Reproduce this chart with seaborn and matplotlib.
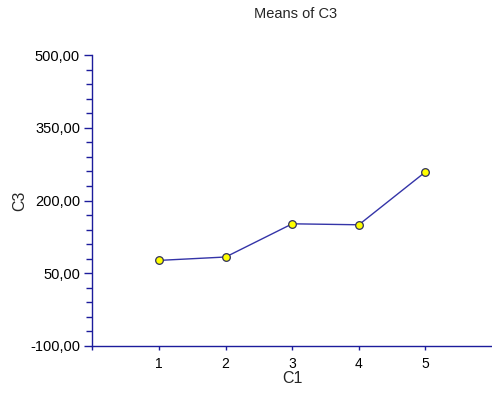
import matplotlib
matplotlib.use("Agg")
import matplotlib.pyplot as plt
from matplotlib.ticker import AutoMinorLocator, FixedLocator, FuncFormatter
import seaborn as sns
import pandas as pd

# Group means of C3 for each level of C1
c1_levels = [1, 2, 3, 4, 5]
c3_means = [76.5, 83.5, 152.0, 150.0, 259.0]

y_ticks = [-100, 50, 200, 350, 500]

df = pd.DataFrame({"C1": c1_levels, "C3": c3_means})

sns.set_style("white")
plt.rcParams["font.family"] = ["Liberation Sans", "DejaVu Sans"]

axis_blue = "#1c1c9c"
line_blue = "#3434a8"

fig = plt.figure(figsize=(4.92, 3.94), dpi=100)
ax = fig.add_axes([0.188, 0.122, 0.812, 0.738])

sns.lineplot(data=df, x="C1", y="C3", ax=ax, color=line_blue, linewidth=1.0,
             marker="o", markersize=5.5, markerfacecolor="#ffff00",
             markeredgecolor="#30305a", markeredgewidth=0.9)

ax.set_xlim(0, 6)
ax.set_ylim(-100, 500)
ax.set_xticks(c1_levels)
ax.xaxis.set_minor_locator(FixedLocator([0]))
ax.set_yticks(y_ticks)
ax.yaxis.set_minor_locator(AutoMinorLocator(5))
ax.yaxis.set_major_formatter(FuncFormatter(lambda v, p: f"{v:.2f}".replace(".", ",")))

for side in ["top", "right"]:
    ax.spines[side].set_visible(False)
for side in ["left", "bottom"]:
    ax.spines[side].set_color(axis_blue)
    ax.spines[side].set_linewidth(1.0)

ax.tick_params(axis="y", which="major", direction="out", length=6, width=1,
               color=axis_blue, labelsize=10.5, labelcolor="black", pad=3, left=True)
ax.tick_params(axis="y", which="minor", direction="out", length=4, width=1,
               color=axis_blue, left=True)
ax.tick_params(axis="x", which="both", direction="out", length=3, width=1,
               color=axis_blue, labelsize=10, labelcolor="black", pad=5, bottom=True)

ax.set_xlabel("C1", fontsize=11.5, labelpad=0)
ax.set_ylabel("C3", fontsize=11.5, labelpad=2)
fig.text(0.6, 0.965, "Means of C3", fontsize=10.5, ha="center", va="center")

fig.savefig("out.png", dpi=100)
